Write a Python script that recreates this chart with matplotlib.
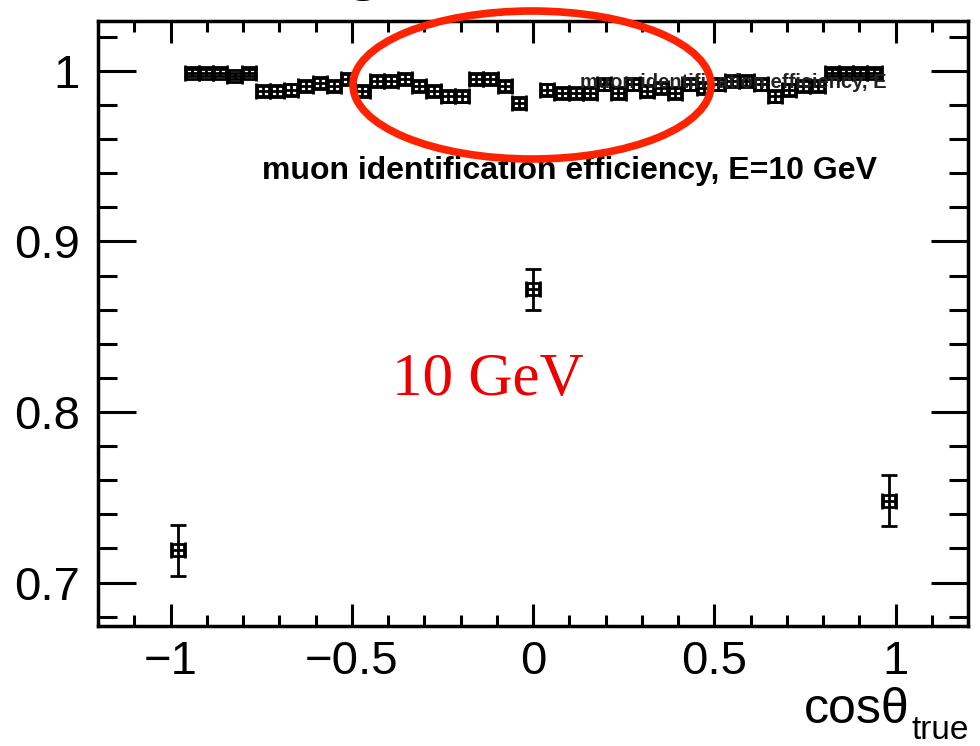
import numpy as np
import matplotlib.pyplot as plt
from matplotlib.patches import Ellipse, Rectangle

plt.rcParams['font.family'] = ['Liberation Sans', 'DejaVu Sans']

# 51 bins in cos(theta_true) between -1 and 1
bin_edges = np.linspace(-1.0, 1.0, 52)
cos_true = 0.5 * (bin_edges[:-1] + bin_edges[1:])
half_width = 0.5 * (bin_edges[1] - bin_edges[0])

efficiency = [
    0.719,
    0.999, 0.999, 0.999, 0.997, 0.999, 0.988, 0.988, 0.989, 0.991, 0.993,
    0.991, 0.995, 0.988, 0.994, 0.994, 0.995, 0.991, 0.988, 0.985, 0.985,
    0.995, 0.995, 0.991, 0.981,
    0.872,
    0.989, 0.987, 0.987, 0.987, 0.992, 0.987, 0.992, 0.988, 0.990, 0.987,
    0.992, 0.990, 0.992, 0.994, 0.994, 0.992, 0.985, 0.989, 0.991, 0.991,
    0.999, 0.999, 0.999, 0.999,
    0.748,
]
eff_error = [
    0.015,
    0.002, 0.002, 0.002, 0.002, 0.002, 0.003, 0.003, 0.003, 0.003, 0.003,
    0.003, 0.003, 0.003, 0.003, 0.003, 0.003, 0.003, 0.003, 0.003, 0.003,
    0.003, 0.003, 0.003, 0.003,
    0.012,
    0.003, 0.003, 0.003, 0.003, 0.003, 0.003, 0.003, 0.003, 0.003, 0.003,
    0.003, 0.003, 0.003, 0.003, 0.003, 0.003, 0.003, 0.003, 0.003, 0.003,
    0.002, 0.002, 0.002, 0.002,
    0.015,
]

fig = plt.figure(figsize=(9.8, 7.46), dpi=100)
ax = fig.add_axes([0.1, 0.161, 0.888, 0.8115])

# open squares, error lines visible through them
ax.errorbar(cos_true, efficiency, xerr=half_width, yerr=eff_error,
            fmt='s', mfc='none', mec='black', ms=9, mew=2.0,
            ecolor='black', elinewidth=2.0, capsize=6, capthick=2.0)

ax.set_xlim(-1.2, 1.2)
ax.set_ylim(0.6746, 1.0295)
ax.set_xticks([-1, -0.5, 0, 0.5, 1])
ax.set_xticklabels(['\u22121', '\u22120.5', '0', '0.5', '1'])
ax.set_xticks(np.arange(-1.1, 1.15, 0.1), minor=True)
ax.set_yticks([0.7, 0.8, 0.9, 1.0])
ax.set_yticklabels(['0.7', '0.8', '0.9', '1'])
ax.set_yticks(np.arange(0.68, 1.025, 0.02), minor=True)

ax.tick_params(which='both', direction='in', top=True, right=True,
               width=2.2, labelsize=34)
ax.tick_params(axis='x', which='major', length=16, pad=10)
ax.tick_params(axis='x', which='minor', length=8)
ax.tick_params(axis='y', which='major', length=27, pad=13)
ax.tick_params(axis='y', which='minor', length=14)
for sp in ax.spines.values():
    sp.set_linewidth(2.5)

# axis title with a lowered subscript
fig.text(910 / 980, 1 - 723 / 746, 'cos\u03b8', ha='right', va='baseline',
         fontsize=36)
fig.text(912 / 980, 1 - 739 / 746, 'true', ha='left', va='baseline',
         fontsize=24)

ax.text(0.188, 0.752, 'muon identification efficiency, E=10 GeV',
        transform=ax.transAxes, fontsize=23, fontweight='bold', va='center')

# half-hidden overlay text near the top
ghost = ax.text(0.554, 0.898, 'muon identification efficiency, E',
                transform=ax.transAxes, fontsize=14.5, fontweight='bold',
                va='center', color='#222222')
clip = Rectangle((0.55, 0.902), 0.36, 0.022, transform=ax.transAxes)
ghost.set_clip_path(clip)

ax.text(0.338, 0.406, '10 GeV', transform=ax.transAxes, color='#ee0000',
        fontsize=44, family='Liberation Serif', va='center')

fig.text(0.356, 1 + 11 / 746, 'g', family='Liberation Serif', fontsize=42,
         va='baseline')

fig.add_artist(Ellipse((532 / 980, 1 - 85 / 746), 358 / 980, 148 / 746,
                       transform=fig.transFigure, fill=False,
                       edgecolor='#ff2200', linewidth=5.5))

fig.savefig('out.png', dpi=100)
